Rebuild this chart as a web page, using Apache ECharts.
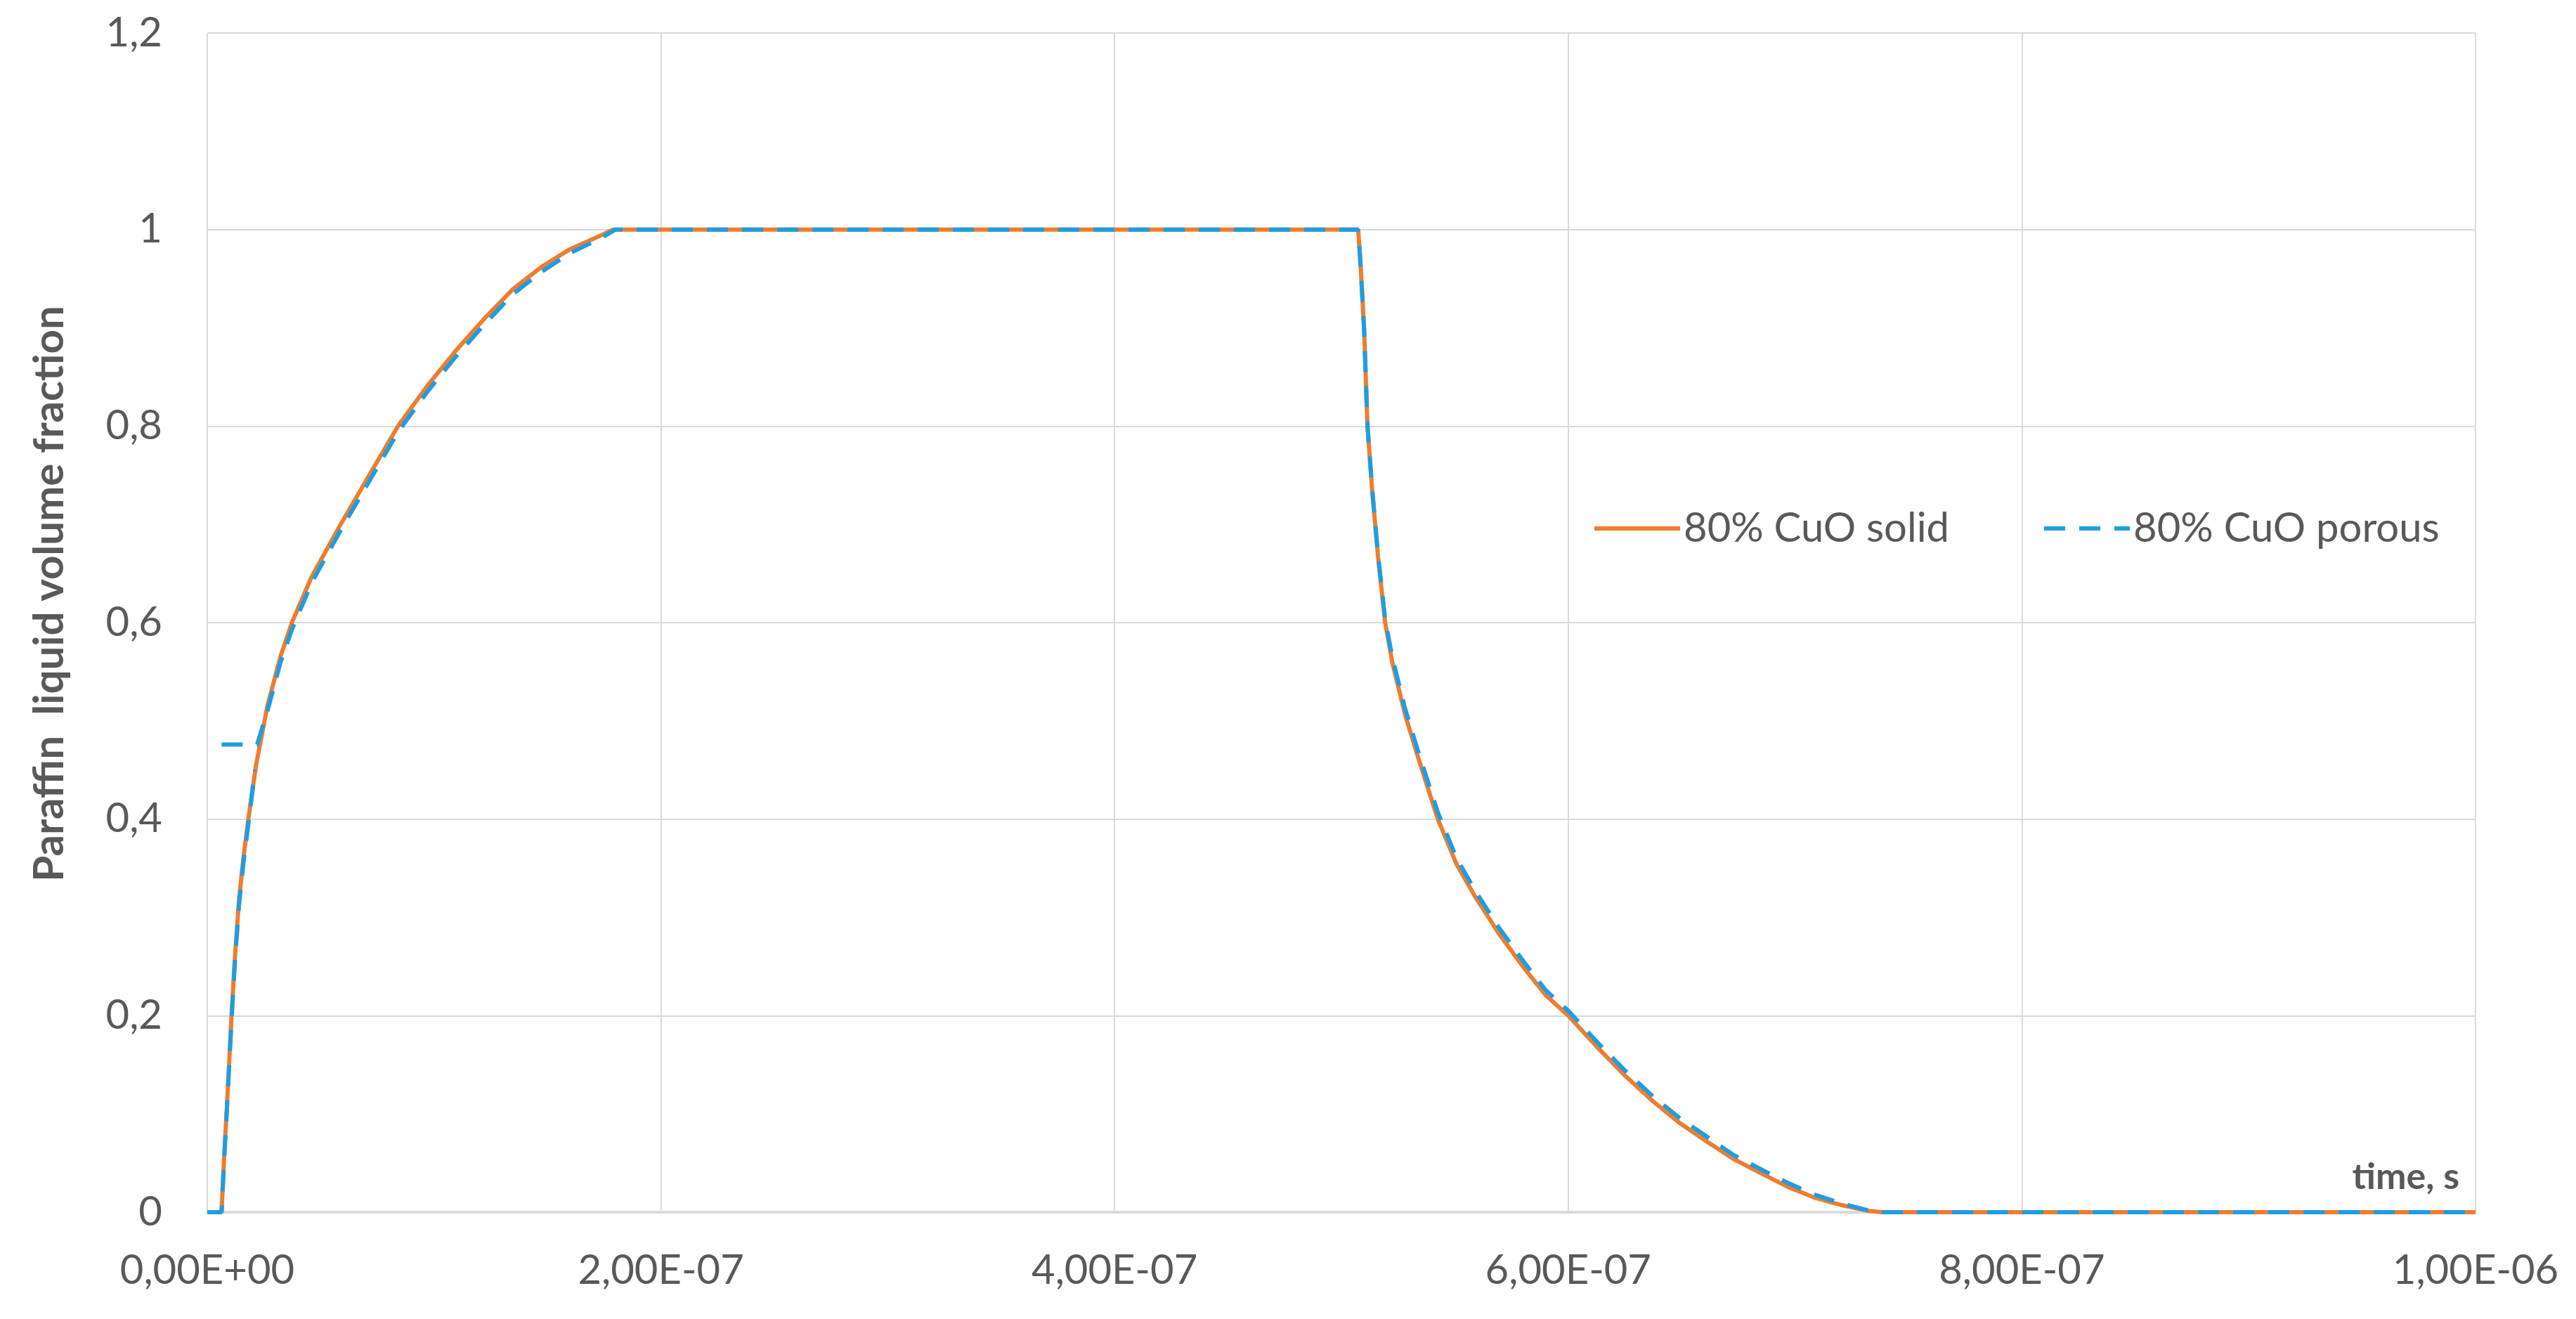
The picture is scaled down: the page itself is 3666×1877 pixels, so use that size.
<!DOCTYPE html>
<html>
<head>
<meta charset="utf-8">
<script src="https://cdn.jsdelivr.net/npm/echarts@6/dist/echarts.min.js"></script>
<style>
  html, body { margin: 0; padding: 0; background: #fff; }
  #chart { width: 3666px; height: 1877px; }
</style>
</head>
<body>
<div id="chart"></div>
<script>
// time axis, s
const xTicks = [0, 2e-7, 4e-7, 6e-7, 8e-7, 1e-6];
const yTicks = [0, 0.2, 0.4, 0.6, 0.8, 1, 1.2];

// 80% CuO solid
const solidTime = [
  0, 6.3e-9, 7.4e-9, 8.6e-9, 1.07e-8, 1.22e-8, 1.4e-8, 1.6e-8, 1.81e-8, 2.15e-8, 2.65e-8, 3.22e-8,
  3.73e-8, 4.61e-8, 5.88e-8, 7.14e-8, 8.41e-8, 9.67e-8, 1.093e-7, 1.22e-7, 1.346e-7,
  1.473e-7, 1.599e-7, 1.725e-7, 1.79e-7,
  5.074e-7, 5.084e-7, 5.10e-7, 5.115e-7, 5.136e-7, 5.162e-7, 5.193e-7, 5.224e-7,
  5.28e-7, 5.342e-7, 5.425e-7, 5.508e-7, 5.59e-7, 5.693e-7, 5.797e-7, 5.90e-7, 6.0e-7,
  6.136e-7, 6.255e-7, 6.373e-7, 6.49e-7, 6.61e-7, 6.73e-7, 6.847e-7, 6.966e-7,
  7.084e-7, 7.203e-7, 7.32e-7, 7.38e-7, 1e-6
];
const solidValue = [
  0, 0, 0.055, 0.105, 0.2, 0.26, 0.318, 0.362, 0.4, 0.455, 0.515, 0.565,
  0.6, 0.647, 0.70, 0.75, 0.8, 0.84, 0.876, 0.909, 0.939,
  0.962, 0.98, 0.993, 1.0,
  1.0, 0.966, 0.899, 0.8, 0.733, 0.666, 0.6, 0.56,
  0.507, 0.46, 0.4, 0.354, 0.321, 0.284, 0.251, 0.221, 0.2,
  0.166, 0.138, 0.113, 0.091, 0.072, 0.054, 0.040, 0.026,
  0.015, 0.0073, 0.0015, 0, 0
];

// 80% CuO porous (null = gap in the line)
const porousTime = [
  0, 6.3e-9, 7.4e-9, 8.6e-9, 1.07e-8, 1.22e-8, 1.4e-8, 1.6e-8, 1.81e-8, 2.1e-8, 2.1e-8,
  6.3e-9, 2.2e-8, 2.65e-8, 3.22e-8, 3.73e-8, 4.61e-8, 5.88e-8, 7.14e-8, 8.41e-8,
  9.67e-8, 1.093e-7, 1.22e-7, 1.346e-7, 1.473e-7, 1.599e-7, 1.725e-7, 1.8e-7,
  5.074e-7, 5.084e-7, 5.10e-7, 5.115e-7, 5.136e-7, 5.162e-7, 5.193e-7, 5.224e-7,
  5.28e-7, 5.342e-7, 5.425e-7, 5.508e-7, 5.59e-7, 5.693e-7, 5.797e-7, 5.90e-7, 6.0e-7,
  6.136e-7, 6.255e-7, 6.373e-7, 6.49e-7, 6.61e-7, 6.73e-7, 6.847e-7, 6.966e-7,
  7.084e-7, 7.203e-7, 7.32e-7, 7.38e-7, 1e-6
];
const porousValue = [
  0, 0, 0.053, 0.102, 0.196, 0.256, 0.313, 0.357, 0.395, 0.45, null,
  0.476, 0.476, 0.51, 0.559, 0.593, 0.641, 0.694, 0.744, 0.794,
  0.834, 0.870, 0.903, 0.934, 0.957, 0.976, 0.990, 1.0,
  1.0, 0.966, 0.899, 0.8, 0.735, 0.668, 0.603, 0.565,
  0.513, 0.466, 0.407, 0.360, 0.327, 0.290, 0.257, 0.226, 0.205,
  0.171, 0.143, 0.118, 0.096, 0.077, 0.058, 0.044, 0.030,
  0.018, 0.009, 0.002, 0, 0
];

const seriesNames = ['80% CuO solid', '80% CuO porous'];

const textColor = '#595959';
const gridColor = '#D9D9D9';
const fontFamily = 'Lato, "Open Sans", sans-serif';
const labelSize = 58;

function pairUp(times, values) {
  return times.map((t, i) => (values[i] === null ? [t, '-'] : [t, values[i]]));
}

// 2e-7 -> "2,00E-07"
function sciLabel(v) {
  if (v === 0) return '0,00E+00';
  let exp = Math.floor(Math.log10(Math.abs(v)) + 1e-9);
  let man = v / Math.pow(10, exp);
  let sign = exp < 0 ? '-' : '+';
  let e = String(Math.abs(exp)).padStart(2, '0');
  return man.toFixed(2).replace('.', ',') + 'E' + sign + e;
}

const chart = echarts.init(document.getElementById('chart'));

chart.setOption({
  backgroundColor: '#fff',
  animation: false,
  grid: {
    left: 295,
    right: 143,
    top: 47,
    bottom: 152,
  },
  legend: {
    left: 2261,
    top: 718,
    itemWidth: 122,
    itemHeight: 20,
    itemGap: 132,
    itemStyle: { opacity: 0 },
    lineStyle: { width: 6 },
    textStyle: {
      color: textColor,
      fontSize: labelSize,
      fontFamily: fontFamily,
    },
    data: seriesNames,
  },
  xAxis: {
    type: 'value',
    min: xTicks[0],
    max: xTicks[xTicks.length - 1],
    interval: xTicks[1] - xTicks[0],
    name: 'time, s',
    nameLocation: 'end',
    nameGap: -23,
    nameTextStyle: {
      color: textColor,
      fontSize: 52,
      fontWeight: 'bold',
      fontFamily: fontFamily,
      align: 'right',
      verticalAlign: 'bottom',
      padding: [0, 0, 24, 0],
    },
    axisLine: {
      show: true,
      lineStyle: { color: gridColor, width: 4 },
    },
    axisTick: { show: false },
    axisLabel: {
      color: textColor,
      fontSize: labelSize,
      fontFamily: fontFamily,
      margin: 54,
      formatter: sciLabel,
    },
    splitLine: {
      show: true,
      lineStyle: { color: gridColor, width: 2 },
    },
  },
  yAxis: {
    type: 'value',
    min: yTicks[0],
    max: yTicks[yTicks.length - 1],
    interval: 0.2,
    name: 'Paraffin  liquid volume fraction',
    nameLocation: 'middle',
    nameRotate: 90,
    nameGap: 194,
    nameTextStyle: {
      color: textColor,
      fontSize: 60,
      fontWeight: 'bold',
      fontFamily: fontFamily,
      padding: [0, 0, 0, 82],
    },
    axisLine: { show: false },
    axisTick: { show: false },
    axisLabel: {
      color: textColor,
      fontSize: labelSize,
      fontFamily: fontFamily,
      margin: 64,
      formatter: (v) => String(Math.round(v * 10) / 10).replace('.', ','),
    },
    splitLine: {
      show: true,
      lineStyle: { color: gridColor, width: 2 },
    },
  },
  series: [
    {
      name: seriesNames[0],
      type: 'line',
      data: pairUp(solidTime, solidValue),
      showSymbol: false,
      symbol: 'none',
      lineStyle: { color: '#ED7D31', width: 6, type: 'solid' },
      itemStyle: { color: '#ED7D31' },
    },
    {
      name: seriesNames[1],
      type: 'line',
      data: pairUp(porousTime, porousValue),
      showSymbol: false,
      symbol: 'none',
      connectNulls: false,
      lineStyle: { color: '#1F9DE0', width: 6, type: [30, 20] },
      itemStyle: { color: '#1F9DE0' },
    },
  ],
});
</script>
</body>
</html>
